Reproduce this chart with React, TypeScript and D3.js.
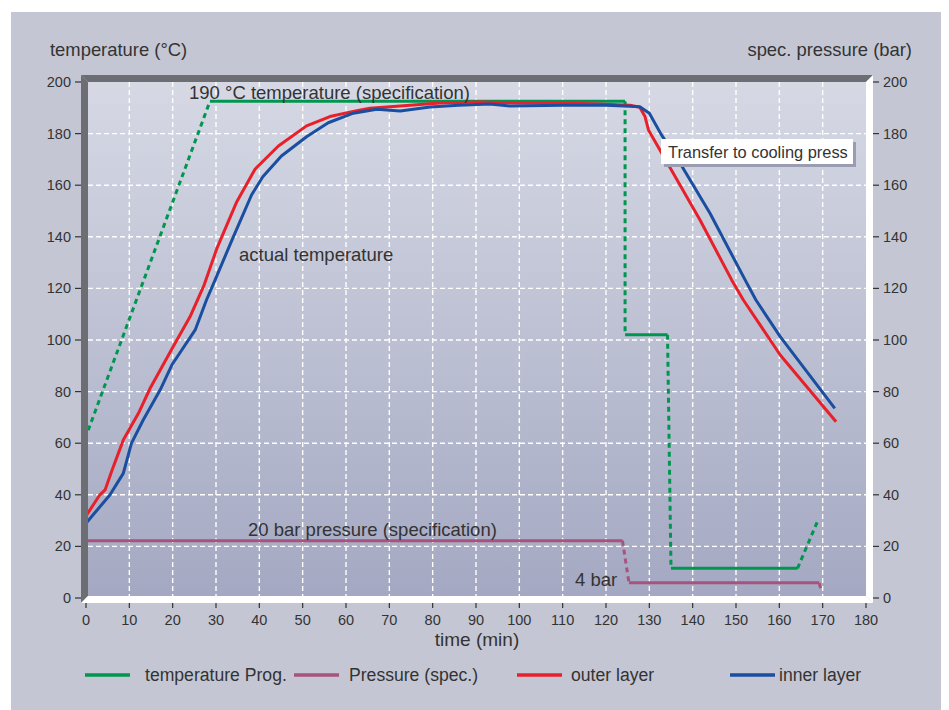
import React from "react";
import * as d3 from "d3";

// ---- data ----
const progTime = [0.5, 28.6, 124.4, 124.4, 134.2, 135, 164.2, 169];
const progTemp = [65, 192.5, 192.5, 102, 102, 11.5, 11.5, 30.5];
const progDashed = [true, false, true, false, true, false, true];

const presTime = [0, 123.8, 125.3, 169.2, 169.5];
const presVal = [22.2, 22.2, 5.9, 5.9, 3.8];
const presDashed = [false, true, false, false];

const outerTime = [0, 3.2, 4.4, 5.9, 8.6, 12.1, 14.8, 20.1, 24, 27.3, 30.2, 34.8, 39, 44.4, 50.9, 56.3, 62.5, 65.5, 72.5, 81.7, 91, 100, 109.4, 118.6, 125.5, 127.8, 129, 129.8, 134, 141.7, 149, 151.7, 160.2, 173.1];
const outerTemp = [31.8, 40, 41.9, 49, 61.2, 71.6, 81.3, 97.4, 109, 121.5, 135.5, 153.6, 166.2, 175.2, 183, 186.6, 188.9, 189.8, 190.7, 191.9, 192.2, 191.9, 191.9, 191.5, 191, 190.2, 186.6, 181.4, 169.1, 146.5, 123.3, 115.5, 94.2, 68.3];

const innerTime = [0, 5.5, 8.6, 10.5, 13.2, 17.1, 19.8, 25.2, 27.8, 29.8, 34, 38.2, 40.8, 45.1, 50.9, 55.9, 61.7, 67.1, 72.5, 79.4, 86, 93.2, 97.8, 110, 120, 125.5, 127.8, 130, 132.8, 137.1, 144, 152.1, 154.6, 160.2, 172.8];
const innerTemp = [29, 39.9, 48.3, 60, 69, 80.6, 90.3, 103.9, 115.5, 123.3, 140, 156.2, 163.3, 171.3, 178.8, 184.2, 187.9, 189.4, 188.8, 190.3, 191, 191.5, 190.7, 191, 191, 190.6, 190.4, 187.9, 179.5, 168.5, 149.1, 123.3, 115.5, 101.3, 73.5];

const xTicks = d3.range(0, 181, 10);
const yTicks = d3.range(0, 201, 20);

const legendLabels = ["temperature Prog.", "Pressure (spec.)", "outer layer", "inner layer"];
const legendColors = ["#00964f", "#a8527e", "#e8202a", "#1a4ea0"];

const FONT = "'Liberation Sans', Arial, sans-serif";
const TXT = "#333";

export default function App() {
  const x = d3.scaleLinear().domain([0, 180]).range([86, 866]);
  const y = d3.scaleLinear().domain([0, 200]).range([598, 82]);
  const line = d3.line<[number, number]>().x((d) => x(d[0])).y((d) => y(d[1]));

  const L = 81, R = 873, T = 75, B = 603, d = 7;
  const segs = (ts: number[], vs: number[], dashed: boolean[], color: string) =>
    dashed.map((ds, i) => (
      <path
        key={color + i}
        d={line([[ts[i], vs[i]], [ts[i + 1], vs[i + 1]]])!}
        fill="none"
        stroke={color}
        strokeWidth={3}
        strokeDasharray={ds ? "5,4" : undefined}
        strokeLinecap="butt"
        strokeLinejoin="round"
      />
    ));

  const legendX = [85, 294, 517, 730];
  const legendTextX = [145, 349, 571, 779];

  return (
    <svg
      width={949}
      height={710}
      style={{ position: "absolute", left: 0, top: 0 }}
      fontFamily={FONT}
    >
      <defs>
        <linearGradient id="plotbg" x1="0" y1="0" x2="0" y2="1">
          <stop offset="0" stopColor="#d6d9e4" />
          <stop offset="1" stopColor="#a4a8c2" />
        </linearGradient>
      </defs>
      <rect x={0} y={0} width={949} height={710} fill="#fff" />
      <rect x={11} y={12} width={930} height={698} fill="#c4c7d3" />

      {/* back wall */}
      <rect x={L + d} y={T + d} width={R - L - 2 * d} height={B - T - 2 * d} fill="url(#plotbg)" />

      {/* grid */}
      {xTicks.filter((t) => t > 0 && t < 180).map((t) => (
        <line key={"gx" + t} x1={x(t)} x2={x(t)} y1={T + d} y2={B - d} stroke="#fff" strokeWidth={1.4} strokeDasharray="5,3" />
      ))}
      {yTicks.filter((t) => t > 0 && t < 200).map((t) => (
        <line key={"gy" + t} x1={L + d} x2={R - d} y1={y(t)} y2={y(t)} stroke="#fff" strokeWidth={1.4} strokeDasharray="5,3" />
      ))}

      {/* series */}
      {segs(progTime, progTemp, progDashed, legendColors[0])}
      {segs(presTime, presVal, presDashed, legendColors[1])}
      <path d={line(outerTime.map((t, i) => [t, outerTemp[i]] as [number, number]))!} fill="none" stroke={legendColors[2]} strokeWidth={3} strokeLinejoin="round" />
      <path d={line(innerTime.map((t, i) => [t, innerTemp[i]] as [number, number]))!} fill="none" stroke={legendColors[3]} strokeWidth={3} strokeLinejoin="round" />

      {/* walls */}
      <polygon points={`${L},${T} ${L + d},${T + d} ${L + d},${B - d} ${L},${B}`} fill="#6d6e73" />
      <polygon points={`${L},${T} ${R},${T} ${R - d},${T + d} ${L + d},${T + d}`} fill="#6d6e73" />
      <polygon points={`${R},${T} ${R},${B} ${R - d},${B - d} ${R - d},${T + d}`} fill="#fff" />
      <polygon points={`${L},${B} ${R},${B} ${R - d},${B - d} ${L + d},${B - d}`} fill="#fff" />

      {/* axes */}
      {yTicks.map((t) => (
        <g key={"yl" + t}>
          <line x1={75} x2={L} y1={y(t)} y2={y(t)} stroke={TXT} strokeWidth={1.2} />
          <text x={71} y={y(t) + 5} textAnchor="end" fontSize={14.5} fill={TXT}>{t}</text>
          <line x1={R} x2={879} y1={y(t)} y2={y(t)} stroke={TXT} strokeWidth={1.2} />
          <text x={883} y={y(t) + 5} textAnchor="start" fontSize={14.5} fill={TXT}>{t}</text>
        </g>
      ))}
      {xTicks.map((t) => (
        <g key={"xt" + t}>
          <line x1={x(t)} x2={x(t)} y1={B} y2={608} stroke={TXT} strokeWidth={1.2} />
          <text x={x(t)} y={625} textAnchor="middle" fontSize={14.5} fill={TXT}>{t}</text>
        </g>
      ))}

      <text x={50} y={56} fontSize={18.4} fill={TXT}>temperature (°C)</text>
      <text x={912} y={56} fontSize={18.4} fill={TXT} textAnchor="end">spec. pressure (bar)</text>
      <text x={477} y={646} fontSize={19} fill={TXT} textAnchor="middle">time (min)</text>

      {/* annotations */}
      <text x={189} y={99} fontSize={18.5} fill={TXT}>190 °C temperature (specification)</text>
      <text x={239} y={261} fontSize={18.5} fill={TXT}>actual temperature</text>
      <text x={248} y={536} fontSize={18.5} fill={TXT}>20 bar pressure (specification)</text>
      <text x={575} y={586} fontSize={18.5} fill={TXT}>4 bar</text>

      <rect x={664} y={142} width={192} height={25} fill="#9a9db2" />
      <rect x={661} y={139} width={192} height={25} fill="#fff" />
      <text x={668} y={157.5} fontSize={16.4} fill={TXT}>Transfer to cooling press</text>

      {/* legend */}
      {legendLabels.map((lab, i) => (
        <g key={lab}>
          <line x1={legendX[i]} x2={legendX[i] + 45} y1={675} y2={675} stroke={legendColors[i]} strokeWidth={3.5} />
          <text x={legendTextX[i]} y={681} fontSize={17.6} fill={TXT}>{lab}</text>
        </g>
      ))}
    </svg>
  );
}
